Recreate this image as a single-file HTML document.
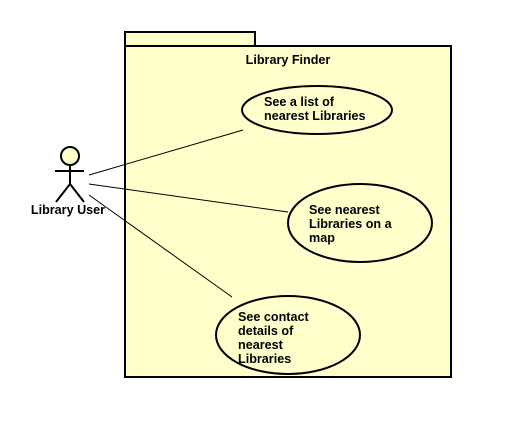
<!DOCTYPE html>
<html><head><style>body{margin:0;background:#fff}</style></head><body>
<svg width="510" height="416" xmlns="http://www.w3.org/2000/svg" font-family="Liberation Sans, sans-serif" font-size="12.6" font-weight="bold">
<rect x="125" y="32" width="130" height="14" fill="#ffffcc" stroke="#000" stroke-width="2"/>
<rect x="125" y="46" width="326" height="331" fill="#ffffcc" stroke="#000" stroke-width="2"/>
<text x="288" y="64" text-anchor="middle">Library Finder</text>
<ellipse cx="317" cy="110" rx="75" ry="24" fill="#ffffcc" stroke="#000" stroke-width="2"/>
<text x="264" y="106">See a list of</text><text x="264" y="120">nearest Libraries</text>
<ellipse cx="360" cy="223" rx="72" ry="39" fill="#ffffcc" stroke="#000" stroke-width="2"/>
<text x="309" y="214">See nearest</text><text x="309" y="228">Libraries on a</text><text x="309" y="242">map</text>
<ellipse cx="288" cy="335" rx="72" ry="39" fill="#ffffcc" stroke="#000" stroke-width="2"/>
<text x="238" y="321">See contact</text><text x="238" y="335">details of</text><text x="238" y="349">nearest</text><text x="238" y="363">Libraries</text>
<g stroke="#000" stroke-width="1" fill="none">
<line x1="89" y1="175" x2="243" y2="130"/>
<line x1="89" y1="184" x2="288" y2="212"/>
<line x1="89" y1="195" x2="232" y2="297"/>
</g>
<g stroke="#000" stroke-width="2" fill="none">
<circle cx="70" cy="156" r="9" fill="#ffffcc"/>
<line x1="55" y1="171" x2="84" y2="171"/>
<line x1="70" y1="165" x2="70" y2="184"/>
<line x1="70" y1="184" x2="56" y2="202"/>
<line x1="70" y1="184" x2="84" y2="202"/>
</g>
<text x="68" y="214" text-anchor="middle">Library User</text>
</svg>
</body></html>
